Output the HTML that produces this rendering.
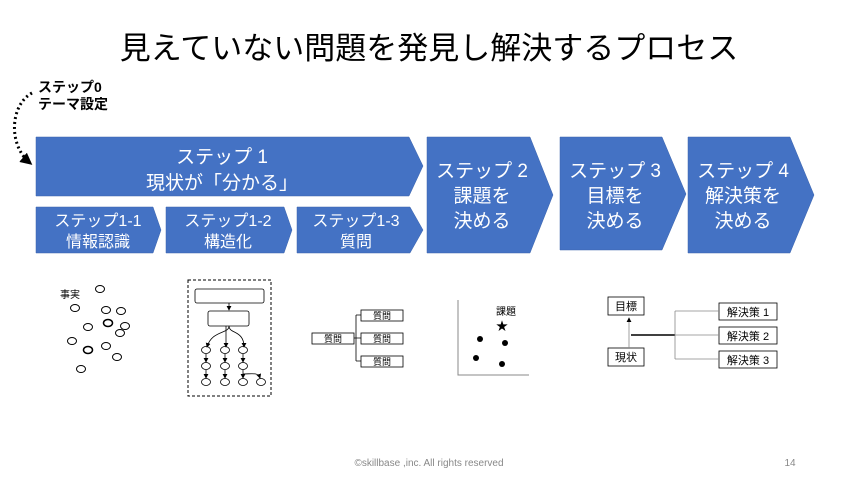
<!DOCTYPE html>
<html><head><meta charset="utf-8">
<style>
html,body{margin:0;padding:0;background:#fff;}
svg{display:block;}
text{font-family:"Liberation Sans","Noto Sans CJK JP",sans-serif;}
</style></head>
<body>
<svg width="858" height="482" viewBox="0 0 858 482" xmlns="http://www.w3.org/2000/svg">
<defs>
<marker id="ah" markerWidth="6" markerHeight="6" refX="5" refY="3" orient="auto"><path d="M0,0 L6,3 L0,6 z" fill="#000"/></marker>
<marker id="ah2" markerWidth="12" markerHeight="12" refX="9" refY="6" orient="auto" markerUnits="userSpaceOnUse"><path d="M0,0 L12,6 L0,12 z" fill="#000"/></marker>
</defs>
<text x="429" y="59" font-size="31" text-anchor="middle" fill="#000">見えていない問題を発見し解決するプロセス</text>

<text x="38" y="92" font-size="14" font-weight="bold">ステップ0</text>
<text x="38" y="109" font-size="14" font-weight="bold">テーマ設定</text>
<path d="M32,93 C10,105 8,145 30,163" fill="none" stroke="#000" stroke-width="3" stroke-dasharray="2,3" marker-end="url(#ah2)"/>

<g fill="#4472C4" stroke="#3a63ad" stroke-width="0.5">
<polygon points="36,137 409,137 423,166 409,196 36,196"/>
<polygon points="36,207 153,207 161,230 153,253 36,253"/>
<polygon points="166,207 284,207 292,230 284,253 166,253"/>
<polygon points="297,207 410,207 423,230 410,253 297,253"/>
<polygon points="427,137 530,137 553,195 530,253 427,253"/>
<polygon points="560,137 662,137 686,194 662,250 560,250"/>
<polygon points="688,137 790,137 814,195 790,253 688,253"/>
</g>
<g fill="#fff" text-anchor="middle">
<text x="222" y="163" font-size="19">ステップ 1</text>
<text x="222" y="189" font-size="19">現状が「分かる」</text>
<text x="98" y="226" font-size="16">ステップ1-1</text>
<text x="98" y="247" font-size="16">情報認識</text>
<text x="228" y="226" font-size="16">ステップ1-2</text>
<text x="228" y="247" font-size="16">構造化</text>
<text x="356" y="226" font-size="16">ステップ1-3</text>
<text x="356" y="247" font-size="16">質問</text>
<text x="482" y="177" font-size="19">ステップ 2</text>
<text x="482" y="202" font-size="19">課題を</text>
<text x="482" y="227" font-size="19">決める</text>
<text x="615" y="177" font-size="19">ステップ 3</text>
<text x="615" y="202" font-size="19">目標を</text>
<text x="615" y="227" font-size="19">決める</text>
<text x="743" y="177" font-size="19">ステップ 4</text>
<text x="743" y="202" font-size="19">解決策を</text>
<text x="743" y="227" font-size="19">決める</text>
</g>

<text x="60" y="298" font-size="10">事実</text>
<g fill="none" stroke="#000" stroke-width="1">
<ellipse cx="100" cy="289" rx="4.5" ry="3.5"/>
<ellipse cx="75" cy="308" rx="4.5" ry="3.5"/>
<ellipse cx="106" cy="310" rx="4.5" ry="3.5"/>
<ellipse cx="121" cy="311" rx="4.5" ry="3.5"/>
<ellipse cx="88" cy="327" rx="4.5" ry="3.5"/>
<ellipse cx="108" cy="323" rx="4.5" ry="3.5" stroke-width="1.5"/>
<ellipse cx="125" cy="326" rx="4.5" ry="3.5"/>
<ellipse cx="120" cy="333" rx="4.5" ry="3.5"/>
<ellipse cx="72" cy="341" rx="4.5" ry="3.5"/>
<ellipse cx="88" cy="350" rx="4.5" ry="3.5" stroke-width="1.5"/>
<ellipse cx="106" cy="346" rx="4.5" ry="3.5"/>
<ellipse cx="117" cy="357" rx="4.5" ry="3.5"/>
<ellipse cx="81" cy="369" rx="4.5" ry="3.5"/>
</g>

<rect x="188" y="280" width="83" height="116" fill="none" stroke="#000" stroke-dasharray="3,2"/>
<g fill="none" stroke="#000" stroke-width="0.8">
<rect x="195" y="289" width="69" height="14" rx="2"/>
<rect x="208" y="311" width="41" height="15" rx="2"/>
<line x1="229" y1="303" x2="229" y2="310" marker-end="url(#ah)"/>
<path d="M229,326 C229,334 212,330 207,347" marker-end="url(#ah)"/>
<line x1="226" y1="326" x2="226" y2="347" marker-end="url(#ah)"/>
<path d="M229,326 C229,334 244,330 244,347" marker-end="url(#ah)"/>
<ellipse cx="206" cy="350" rx="4.5" ry="3.5"/>
<ellipse cx="225" cy="350" rx="4.5" ry="3.5"/>
<ellipse cx="243" cy="350" rx="4.5" ry="3.5"/>
<ellipse cx="206" cy="366" rx="4.5" ry="3.5"/>
<ellipse cx="225" cy="366" rx="4.5" ry="3.5"/>
<ellipse cx="243" cy="366" rx="4.5" ry="3.5"/>
<ellipse cx="206" cy="382" rx="4.5" ry="3.5"/>
<ellipse cx="225" cy="382" rx="4.5" ry="3.5"/>
<ellipse cx="243" cy="382" rx="4.5" ry="3.5"/>
<ellipse cx="261" cy="382" rx="4.5" ry="3.5"/>
<line x1="206" y1="354" x2="206" y2="362" marker-end="url(#ah)"/>
<line x1="225" y1="354" x2="225" y2="362" marker-end="url(#ah)"/>
<line x1="243" y1="354" x2="243" y2="362" marker-end="url(#ah)"/>
<line x1="206" y1="370" x2="206" y2="378" marker-end="url(#ah)"/>
<line x1="225" y1="370" x2="225" y2="378" marker-end="url(#ah)"/>
<line x1="243" y1="370" x2="243" y2="378" marker-end="url(#ah)"/>
<path d="M243,374 C252,374 258,372 260,378" marker-end="url(#ah)"/>
</g>

<g fill="none" stroke="#000" stroke-width="0.8">
<rect x="312" y="333" width="42" height="11"/>
<rect x="361" y="310" width="42" height="11"/>
<rect x="361" y="333" width="42" height="11"/>
<rect x="361" y="356" width="42" height="11"/>
<path d="M354,338 H356 M356,315 V361 M356,315 H361 M356,338 H361 M356,361 H361"/>
</g>
<g font-size="9" text-anchor="middle">
<text x="333" y="342">質問</text>
<text x="382" y="319">質問</text>
<text x="382" y="342">質問</text>
<text x="382" y="365">質問</text>
</g>

<path d="M458,300 V375 H529" fill="none" stroke="#888" stroke-width="1"/>
<text x="506" y="315" font-size="10" text-anchor="middle">課題</text>
<text x="502" y="330" font-size="12" text-anchor="middle">★</text>
<circle cx="480" cy="339" r="3"/>
<circle cx="505" cy="343" r="3"/>
<circle cx="476" cy="358" r="3"/>
<circle cx="502" cy="364" r="3"/>

<g fill="none" stroke="#000" stroke-width="0.8">
<rect x="608" y="297" width="36" height="18"/>
<rect x="608" y="348" width="36" height="18"/>
<rect x="719" y="303" width="58" height="17"/>
<rect x="719" y="327" width="58" height="17"/>
<rect x="719" y="351" width="58" height="17"/>
<line x1="629" y1="348" x2="629" y2="318" stroke="#888" marker-end="url(#ah)"/>
<line x1="631" y1="335" x2="675" y2="335" stroke-width="1.5"/>
<path d="M675,311 V359 M675,311 H719 M675,335 H719 M675,359 H719" stroke="#888"/>
</g>
<g font-size="11" text-anchor="middle">
<text x="626" y="310">目標</text>
<text x="626" y="361">現状</text>
<text x="748" y="316">解決策 1</text>
<text x="748" y="340">解決策 2</text>
<text x="748" y="364">解決策 3</text>
</g>

<text x="429" y="466" font-size="10" fill="#888" text-anchor="middle">©skillbase ,inc. All rights reserved</text>
<text x="790" y="466" font-size="10" fill="#888" text-anchor="middle">14</text>
</svg>
</body></html>
